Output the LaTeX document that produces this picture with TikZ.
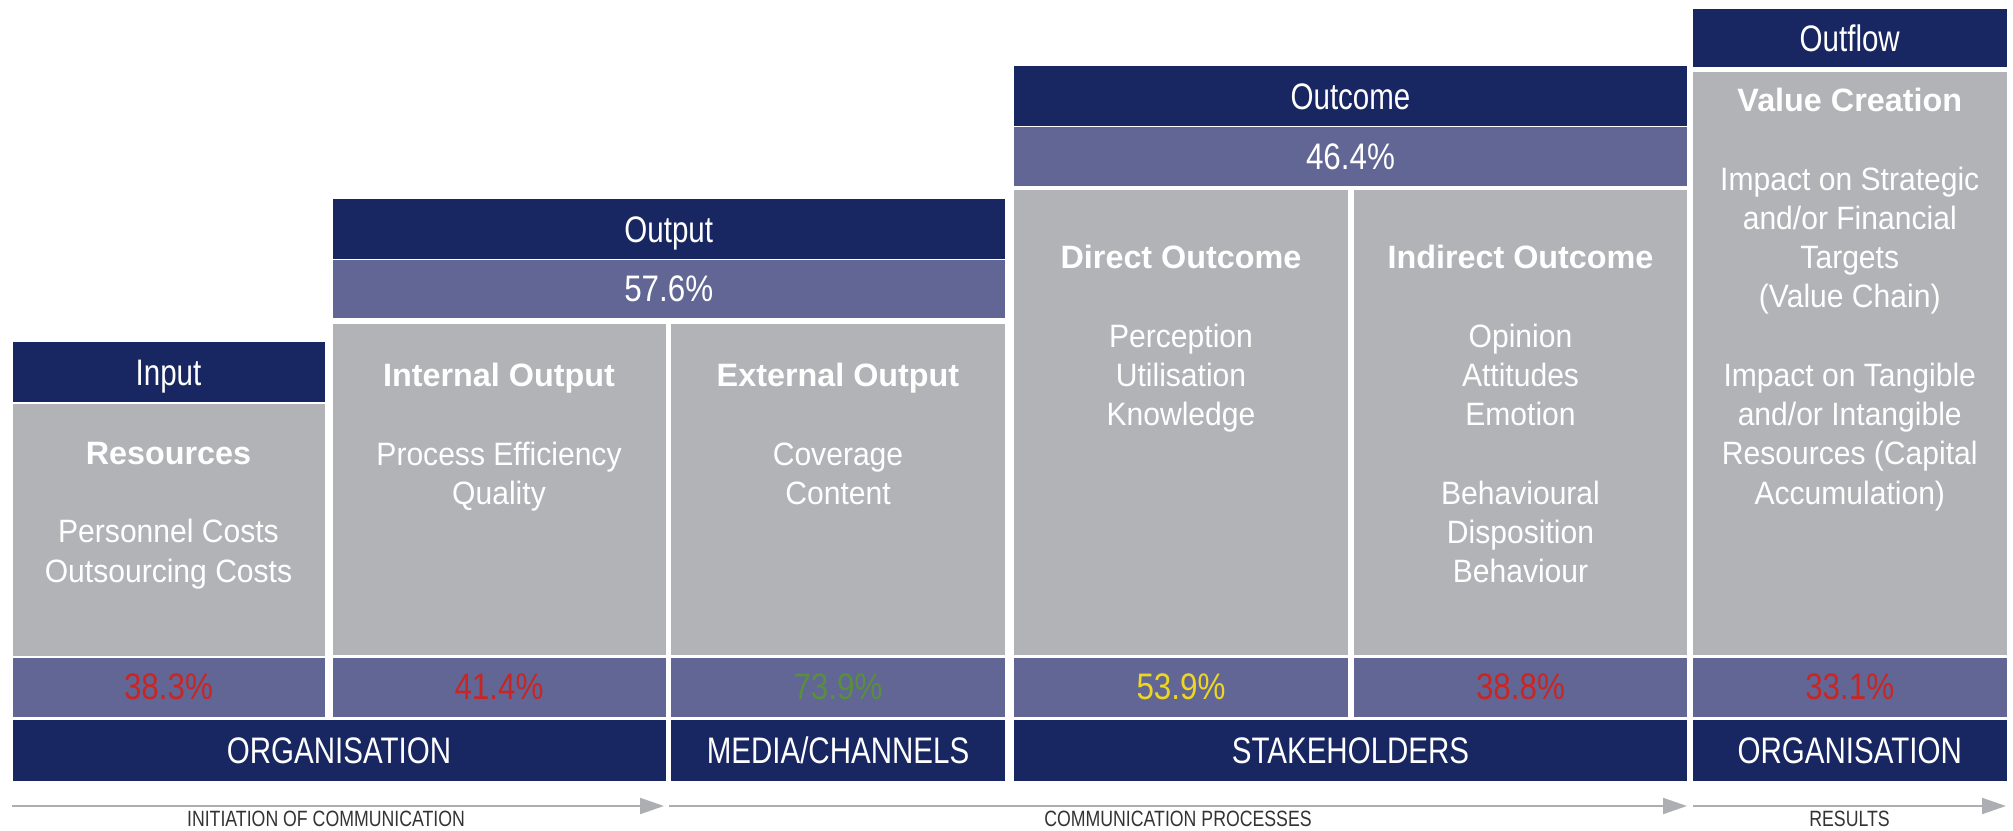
\documentclass[tikz,border=0pt]{standalone}
\usepackage{fontspec}
\setmainfont{Liberation Sans}[FakeStretch=0.93]
\newfontfamily\titlefont{Liberation Sans}[FakeStretch=1.0]
\newfontfamily\headfont{Liberation Sans}[FakeStretch=0.8]
\newfontfamily\ratefont{Liberation Sans}[FakeStretch=0.85]
\newfontfamily\lblfont{Liberation Sans}[FakeStretch=0.8]
\usetikzlibrary{arrows.meta, positioning}
\definecolor{mnavy}{RGB}{24,39,97}
\definecolor{mpurple}{RGB}{98,102,148}
\definecolor{mgrey}{RGB}{178,179,183}
\definecolor{marrow}{RGB}{172,174,178}
\definecolor{mred}{RGB}{200,38,36}
\definecolor{mgreen}{RGB}{88,142,62}
\definecolor{myellow}{RGB}{238,214,34}
\newcommand{\ttl}[1]{{\titlefont\bfseries #1}}

\begin{document}
\begin{tikzpicture}[x=0.1mm, y=-0.1mm]
  \tikzstyle{head} = [rectangle, fill=mnavy, text=white, inner sep=0, outer sep=0, minimum height=6mm, text height=7.6pt, text depth=0pt, font=\headfont\fontsize{10.5}{12}\selectfont]
  \tikzstyle{rate} = [rectangle, fill=mpurple, text=white, inner sep=0, outer sep=0, minimum height=5.85mm, font=\ratefont\fontsize{10.5}{12}\selectfont]
  \tikzstyle{body} = [rectangle, fill=mgrey, inner sep=0, outer sep=0]
  \tikzstyle{txt} = [anchor=north, align=center, text=white, inner sep=0, font=\fontsize{9.2}{11.17}\selectfont]
  \tikzstyle{arrow} = [line width=0.2mm, marrow, -{Triangle[length=2.4mm, width=1.6mm]}]
  \tikzstyle{lbl} = [below=0.45mm, inner sep=0, text=black!80, font=\lblfont\fontsize{6.3}{7}\selectfont]

  \useasboundingbox (0,0) rectangle (2013,831);

  % stage headers
  \node[head, minimum width=31.2mm] (input) at (168.5,372) {Input};
  \node[head, minimum width=67.25mm] (output) at (668.75,229) {Output};
  \node[rate, minimum width=67.25mm, minimum height=5.8mm] (outrate) at (668.75,289) {57.6\%};
  \node[head, minimum width=67.3mm] (outcome) at (1350.5,96) {Outcome};
  \node[rate, minimum width=67.3mm, minimum height=5.95mm] (ocrate) at (1350.5,156.75) {46.4\%};
  \node[head, minimum width=31.35mm, minimum height=5.8mm] (outflow) at (1849.75,38.5) {Outflow};

  % grey columns
  \node[body, minimum width=31.2mm, minimum height=25.15mm] (res) at (168.5,529.75) {};
  \node[body, minimum width=33.3mm, minimum height=33.15mm] (intout) at (499,489.75) {};
  \node[body, minimum width=33.4mm, minimum height=33.15mm] (extout) at (838,489.75) {};
  \node[body, minimum width=33.4mm, minimum height=46.5mm] (dirout) at (1181,423) {};
  \node[body, minimum width=33.3mm, minimum height=46.5mm] (indout) at (1520.5,423) {};
  \node[body, minimum width=31.35mm, minimum height=58.3mm] (value) at (1849.75,364) {};

  \node[txt] (restxt) at (168.5,441.5) {\ttl{Resources}\\[11.17pt]Personnel Costs\\Outsourcing Costs};
  \node[txt] (intouttxt) at (499,362.5) {\ttl{Internal Output}\\[11.17pt]Process Efficiency\\Quality};
  \node[txt] (extouttxt) at (838,362.5) {\ttl{External Output}\\[11.17pt]Coverage\\Content};
  \node[txt] (dirouttxt) at (1181,244.5) {\ttl{Direct Outcome}\\[11.17pt]Perception\\Utilisation\\Knowledge};
  \node[txt] (indouttxt) at (1520.5,244.5) {\ttl{Indirect Outcome}\\[11.17pt]Opinion\\Attitudes\\Emotion\\[11.17pt]Behavioural\\Disposition\\Behaviour};
  \node[txt] (valuetxt) at (1849.75,87.5) {\ttl{Value Creation}\\[11.17pt]Impact on Strategic\\and/or Financial\\Targets\\(Value Chain)\\[11.17pt]Impact on Tangible\\and/or Intangible\\Resources (Capital\\Accumulation)};

  % rates per column
  \node[rate, minimum width=31.2mm, text=mred] (resrate) at (168.5,687.25) {38.3\%};
  \node[rate, minimum width=33.3mm, text=mred] (intrate) at (499,687.25) {41.4\%};
  \node[rate, minimum width=33.4mm, text=mgreen] (extrate) at (838,687.25) {73.9\%};
  \node[rate, minimum width=33.4mm, text=myellow] (dirrate) at (1181,687.25) {53.9\%};
  \node[rate, minimum width=33.3mm, text=mred] (indrate) at (1520.5,687.25) {38.8\%};
  \node[rate, minimum width=31.35mm, text=mred] (valrate) at (1849.75,687.25) {33.1\%};

  % actors
  \node[head, minimum width=65.3mm, minimum height=6.1mm] (orgleft) at (339,750.5) {ORGANISATION};
  \node[head, minimum width=33.4mm, minimum height=6.1mm] (media) at (838,750.5) {MEDIA/CHANNELS};
  \node[head, minimum width=67.3mm, minimum height=6.1mm] (stake) at (1350.5,750.5) {STAKEHOLDERS};
  \node[head, minimum width=31.35mm, minimum height=6.1mm] (orgright) at (1849.75,750.5) {ORGANISATION};

  % process arrows
  \coordinate (initA) at (12,806);
  \coordinate (initB) at (664,806);
  \coordinate (procA) at (669,806);
  \coordinate (procB) at (1687,806);
  \coordinate (resA) at (1693,806);
  \coordinate (resB) at (2006,806);
  \draw[arrow] (initA) -- node[lbl, xshift=-1.2mm] {INITIATION OF COMMUNICATION} (initB);
  \draw[arrow] (procA) -- node[lbl] {COMMUNICATION PROCESSES} (procB);
  \draw[arrow] (resA) -- node[lbl] {RESULTS} (resB);
\end{tikzpicture}
\end{document}
